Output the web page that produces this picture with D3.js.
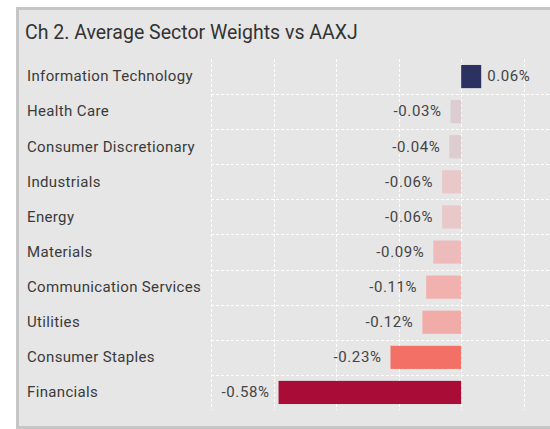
<!DOCTYPE html>
<html>
<head>
<meta charset="utf-8">
<script src="https://cdn.jsdelivr.net/npm/d3@7"></script>
<style>
  body { margin: 0; background: #fff; }
  svg { display: block; font-family: Roboto, "Noto Sans", sans-serif; }
</style>
</head>
<body>
<div id="chart"></div>
<script>
// Sector names, top to bottom
const sectors = [
  'Information Technology', 'Health Care', 'Consumer Discretionary', 'Industrials',
  'Energy', 'Materials', 'Communication Services', 'Utilities',
  'Consumer Staples', 'Financials'
];

// Active weight vs AAXJ (%)
const weights = [0.064, -0.034, -0.038, -0.061, -0.061, -0.089, -0.112, -0.124, -0.226, -0.584];

const gridTicks = [-0.8, -0.6, -0.4, -0.2, 0, 0.2];

const width = 550, height = 429;

const svg = d3.select('#chart').append('svg')
  .attr('width', width)
  .attr('height', height);

// Panel
svg.append('rect')
  .attr('x', 17.5).attr('y', 8.5)
  .attr('width', 560).attr('height', 419)
  .attr('fill', '#e6e6e6')
  .attr('stroke', '#c6c6c6')
  .attr('stroke-width', 3);

svg.append('text')
  .attr('x', 25).attr('y', 39)
  .attr('font-size', 19.5)
  .attr('fill', '#333')
  .text('Ch 2. Average Sector Weights vs AAXJ');

const x = d3.scaleLinear().domain([-0.8, 0.3]).range([211, 555]);
const y = d3.scaleBand().domain(sectors).range([59, 410])
  .paddingInner(0.34).paddingOuter(0.17);

const color = d3.scaleLinear()
  .domain([-0.58, -0.23, -0.12, -0.06, -0.03])
  .range(['#a80c37', '#f26e62', '#f2aeaa', '#e8c8ca', '#d9ced2'])
  .clamp(true);

const grid = svg.append('g')
  .attr('stroke', '#fff')
  .attr('stroke-width', 1)
  .attr('stroke-dasharray', '3,2');

// vertical grid lines
grid.selectAll('.vline')
  .data(gridTicks)
  .enter()
  .append('line')
  .attr('x1', d => Math.round(x(d)) + 0.5)
  .attr('x2', d => Math.round(x(d)) + 0.5)
  .attr('y1', 59).attr('y2', 410);

// horizontal lines between rows
const step = y.step();
grid.selectAll('.hline')
  .data(sectors.slice(1))
  .enter()
  .append('line')
  .attr('x1', x(-0.8)).attr('x2', width)
  .attr('y1', d => Math.round(y(d) - step * y.paddingInner() / 2) + 0.5)
  .attr('y2', d => Math.round(y(d) - step * y.paddingInner() / 2) + 0.5);

// category labels
svg.append('g').selectAll('text')
  .data(sectors)
  .enter()
  .append('text')
  .attr('x', 27)
  .attr('y', d => y(d) + y.bandwidth() / 2 - 0.5)
  .attr('dy', '0.35em')
  .attr('font-size', 15)
  .attr('letter-spacing', 0.35)
  .attr('fill', '#3a3a3a')
  .text(d => d);

const rows = sectors.map((s, i) => ({ sector: s, value: weights[i] }));

// bars
svg.append('g').selectAll('rect')
  .data(rows)
  .enter()
  .append('rect')
  .attr('x', d => x(Math.min(0, d.value)))
  .attr('y', d => y(d.sector))
  .attr('width', d => Math.abs(x(d.value) - x(0)))
  .attr('height', y.bandwidth())
  .attr('fill', d => d.value > 0 ? '#2b3160' : color(d.value));

// value labels
const fmt = d3.format('.2f');
svg.append('g').selectAll('text')
  .data(rows)
  .enter()
  .append('text')
  .attr('x', d => d.value > 0 ? x(d.value) + 6 : x(d.value) - 9)
  .attr('y', d => y(d.sector) + y.bandwidth() / 2 - 0.5)
  .attr('dy', '0.35em')
  .attr('text-anchor', d => d.value > 0 ? 'start' : 'end')
  .attr('font-size', 15)
  .attr('letter-spacing', 0.6)
  .attr('fill', '#444')
  .text(d => fmt(d.value).replace('−', '-') + '%');
</script>
</body>
</html>
